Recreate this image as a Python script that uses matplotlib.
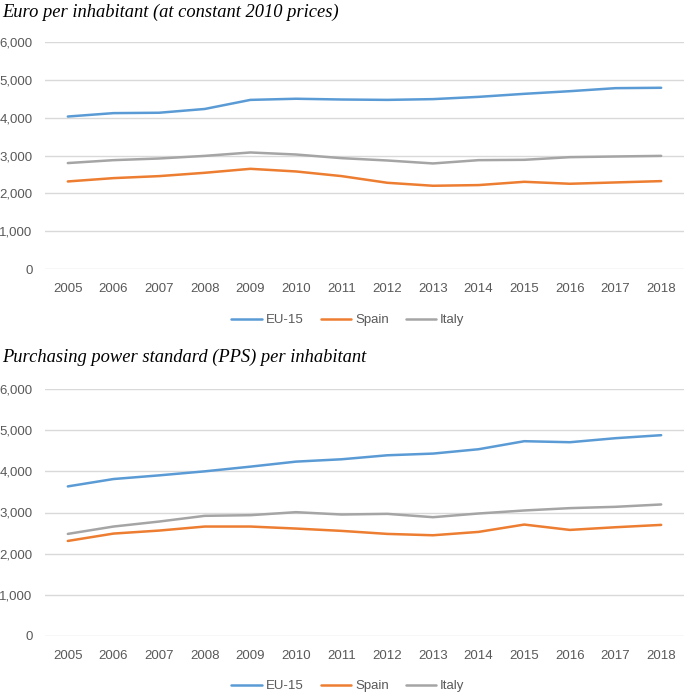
import matplotlib
matplotlib.use("Agg")
import matplotlib.pyplot as plt
from matplotlib.ticker import FuncFormatter

years = [str(y) for y in range(2005, 2019)]

# Panel 1: Euro per inhabitant (constant 2010 prices)
eu15_eur = [4030, 4120, 4130, 4230, 4470, 4500, 4480, 4470, 4490, 4550, 4630, 4700, 4780, 4790]
spain_eur = [2314, 2402, 2455, 2543, 2648, 2578, 2455, 2279, 2200, 2218, 2305, 2253, 2288, 2323]
italy_eur = [2800, 2877, 2921, 2990, 3080, 3026, 2930, 2868, 2790, 2877, 2886, 2956, 2974, 2990]

# Panel 2: PPS per inhabitant
eu15_pps = [3634, 3813, 3902, 4000, 4114, 4236, 4293, 4390, 4431, 4537, 4732, 4707, 4805, 4878]
spain_pps = [2309, 2488, 2561, 2659, 2659, 2610, 2553, 2480, 2447, 2529, 2707, 2577, 2642, 2699]
italy_pps = [2480, 2659, 2780, 2919, 2935, 3008, 2951, 2967, 2886, 2976, 3049, 3106, 3138, 3195]

titles = ["Euro per inhabitant (at constant 2010 prices)",
          "Purchasing power standard (PPS) per inhabitant"]
series_names = ["EU-15", "Spain", "Italy"]
colors = ["#5B9BD5", "#ED7D31", "#A5A5A5"]
yticks = [0, 1000, 2000, 3000, 4000, 5000, 6000]

W, H = 685, 695
fig = plt.figure(figsize=(W / 100, H / 100), dpi=100)

tick_font = ['Liberation Sans', 'DejaVu Sans']
title_font = ['Liberation Serif', 'DejaVu Serif']

panels = [
    dict(data=[eu15_eur, spain_eur, italy_eur], top=42, bottom=269, title_y=12, legend_y=320),
    dict(data=[eu15_pps, spain_pps, italy_pps], top=389, bottom=636, title_y=357, legend_y=686),
]

left_px, right_px = 45, 684
for i, p in enumerate(panels):
    ax = fig.add_axes([left_px / W, 1 - p["bottom"] / H,
                       (right_px - left_px) / W, (p["bottom"] - p["top"]) / H])
    x = list(range(len(years)))
    lines = []
    for vals, name, c in zip(p["data"], series_names, colors):
        ln, = ax.plot(x, vals, color=c, lw=1.8, label=name, solid_capstyle='round')
        lines.append(ln)
    ax.set_xlim(-0.5, len(years) - 0.5)
    ax.set_ylim(0, 6000)
    ax.set_yticks(yticks)
    ax.yaxis.set_major_formatter(FuncFormatter(lambda v, _: f"{int(v):,}"))
    ax.set_xticks(x)
    ax.set_xticklabels(years)
    ax.grid(axis='y', color='#d9d9d9', lw=1)
    ax.set_axisbelow(True)
    for s in ax.spines.values():
        s.set_visible(False)
    ax.tick_params(axis='both', length=0, colors='#595959', labelsize=9.5)
    ax.tick_params(axis='y', pad=9)
    ax.tick_params(axis='x', pad=10)
    for lab in ax.get_xticklabels() + ax.get_yticklabels():
        lab.set_family(tick_font)
    fig.text(2 / W, 1 - p["title_y"] / H, titles[i], family=title_font, style='italic',
             fontsize=13.3, va='center', ha='left', color='black')
    fig.legend(lines, series_names, loc='center', bbox_to_anchor=(348 / W, 1 - p["legend_y"] / H),
               ncol=3, frameon=False, handlelength=2.3, handletextpad=0.3, columnspacing=1.3,
               prop={'family': tick_font, 'size': 9.5}, labelcolor='#595959')

fig.savefig("out.png", dpi=100)
